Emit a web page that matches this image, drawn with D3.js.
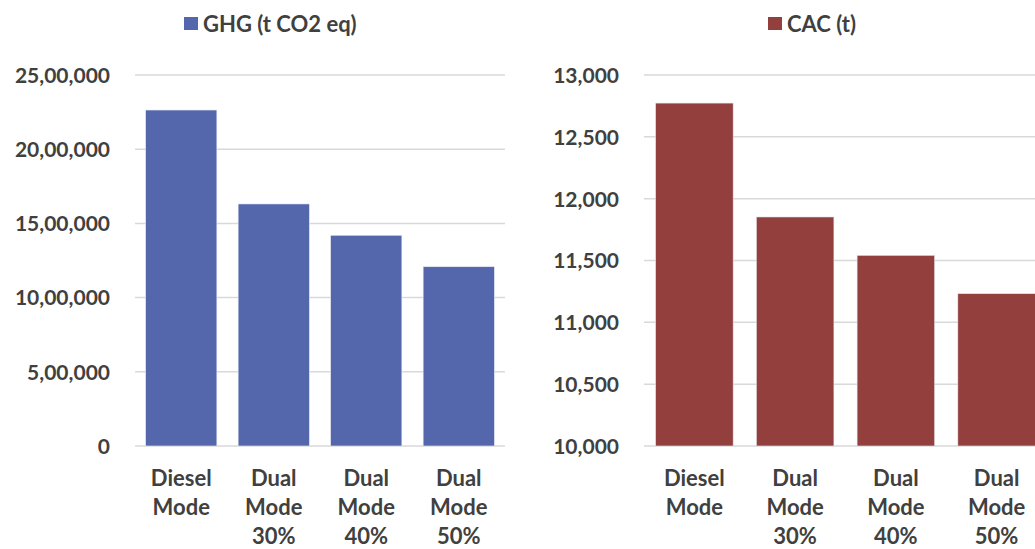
<!DOCTYPE html>
<html><head><meta charset="utf-8">
<script src="https://cdn.jsdelivr.net/npm/d3@7"></script>
<style>
html,body{margin:0;padding:0;background:#fff;}
svg text{font-family:Lato,"Open Sans",sans-serif;font-weight:bold;fill:#404040;}
</style></head><body>
<svg id="c" width="1035" height="549"></svg>
<script>
const categories = ["Diesel Mode", "Dual Mode 30%", "Dual Mode 40%", "Dual Mode 50%"];
const categoryLines = [["Diesel","Mode"],["Dual","Mode","30%"],["Dual","Mode","40%"],["Dual","Mode","50%"]];
const ghgValues = [2264000, 1631000, 1420000, 1208000];
const cacValues = [12773, 11852, 11542, 11232];
const ghgTicks = [0, 500000, 1000000, 1500000, 2000000, 2500000];
const ghgTickLabels = ["0", "5,00,000", "10,00,000", "15,00,000", "20,00,000", "25,00,000"];
const cacTicks = [10000, 10500, 11000, 11500, 12000, 12500, 13000];
const cacTickLabels = ["10,000", "10,500", "11,000", "11,500", "12,000", "12,500", "13,000"];
const seriesNames = ["GHG (t CO2 eq)", "CAC (t)"];
const seriesColors = ["#5467AD", "#923F3E"];

const svg = d3.select("#c");

function panel(cfg) {
  const x = d3.scaleBand().domain(categories).range([cfg.x0, cfg.x1]).paddingInner(0.23).paddingOuter(0.115);
  const y = d3.scaleLinear().domain(cfg.domain).range([446, 75]);
  const g = svg.append("g");
  g.append("g").selectAll("line").data(cfg.ticks).join("line")
    .attr("x1", cfg.x0).attr("x2", cfg.gx1)
    .attr("y1", d => y(d)).attr("y2", d => y(d))
    .attr("stroke", "#d9d9d9").attr("stroke-width", 1.5);
  const ax = g.append("g").attr("transform", `translate(${cfg.x0 - 25},0)`)
    .call(d3.axisLeft(y).tickValues(cfg.ticks).tickSize(0).tickPadding(0)
      .tickFormat((d, i) => cfg.labels[i]));
  ax.select(".domain").remove();
  ax.selectAll("text").attr("font-size", 21).attr("dy", "0.35em")
    .style("font-family", "Lato, 'Open Sans', sans-serif").style("font-weight", "bold").attr("fill", "#404040");
  g.append("g").selectAll("rect").data(cfg.values).join("rect")
    .attr("x", (d, i) => x(categories[i]))
    .attr("width", x.bandwidth())
    .attr("y", d => y(d))
    .attr("height", d => y(cfg.domain[0]) - y(d))
    .attr("fill", cfg.color)
    .attr("stroke", "#e6e9f2").attr("stroke-width", 0.6);
  const xl = g.append("g");
  categoryLines.forEach((lines, i) => {
    const cx = x(categories[i]) + x.bandwidth() / 2;
    const t = xl.append("text").attr("text-anchor", "middle").attr("font-size", 22).attr("x", cx);
    lines.forEach((ln, j) => t.append("tspan").attr("x", cx).attr("y", 486 + j * 29).text(ln));
  });
  const lg = g.append("g");
  lg.append("rect").attr("x", cfg.lx).attr("y", 17).attr("width", 14).attr("height", 13).attr("fill", cfg.color);
  lg.append("text").attr("x", cfg.lx + 19).attr("y", 32).attr("font-size", 22).text(cfg.name);
}

panel({x0: 135, x1: 505, gx1: 505, domain: [0, 2500000], ticks: ghgTicks, labels: ghgTickLabels,
  values: ghgValues, color: seriesColors[0], lx: 184, name: seriesNames[0]});
panel({x0: 644, x1: 1047, gx1: 1047, domain: [10000, 13000], ticks: cacTicks, labels: cacTickLabels,
  values: cacValues, color: seriesColors[1], lx: 768, name: seriesNames[1]});
</script>
</body></html>
